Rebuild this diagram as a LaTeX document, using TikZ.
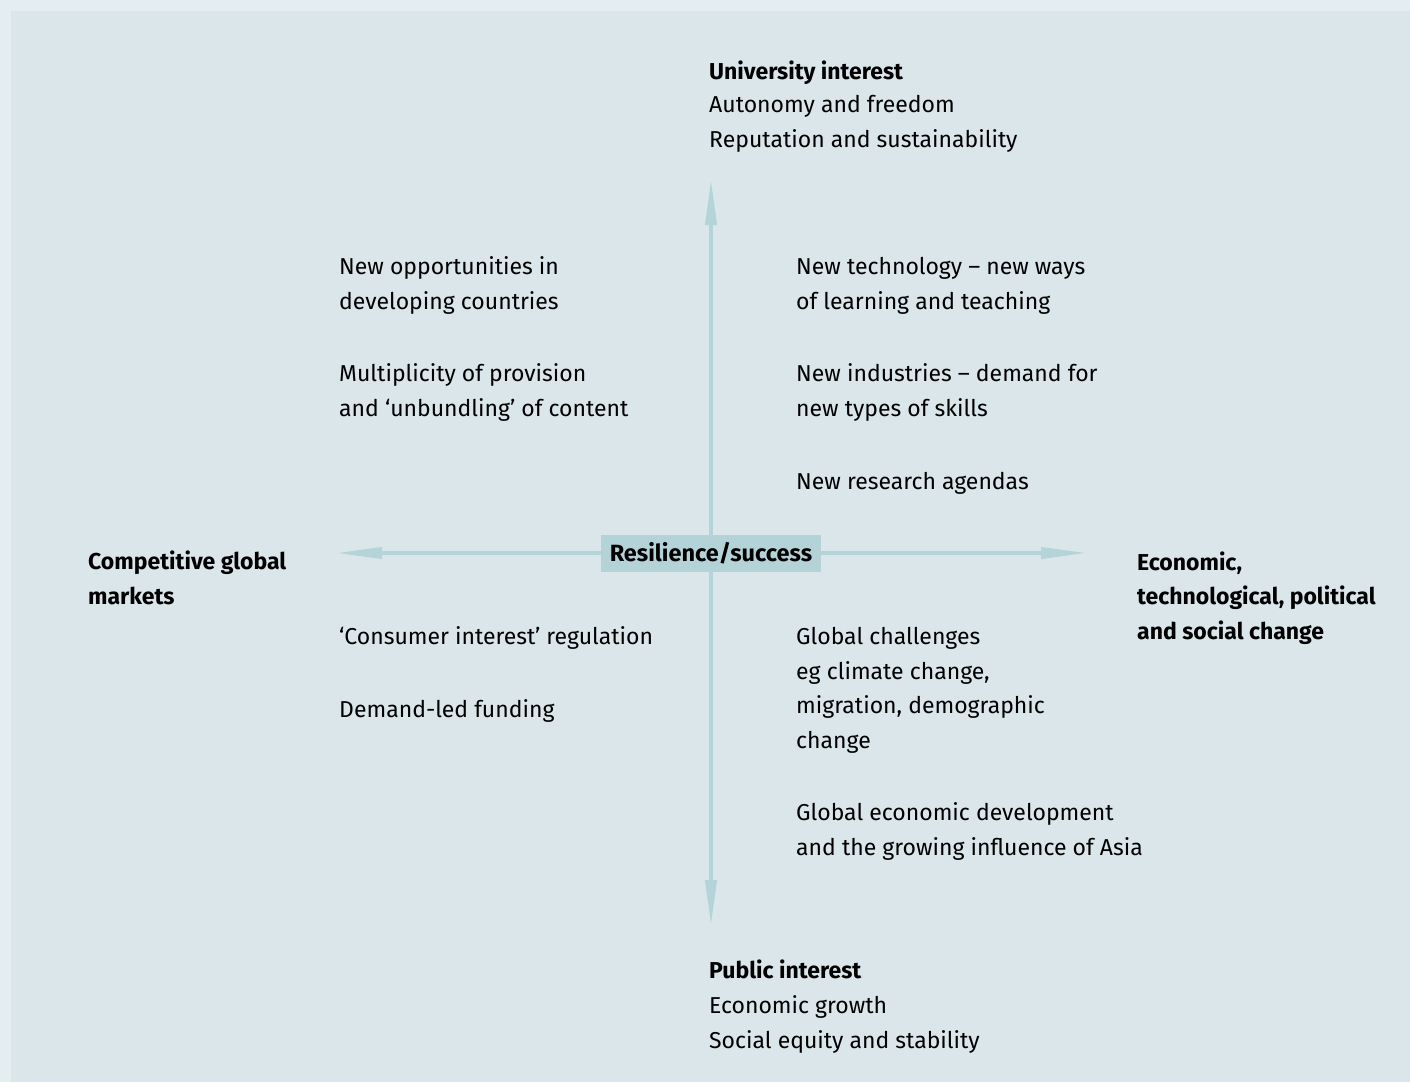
\documentclass[tikz,border=0pt]{standalone}
\usepackage{fontspec}
\setmainfont{Fira Sans}
\usepackage{tikz}
\usetikzlibrary{arrows.meta}

\definecolor{framebg}{HTML}{E4EDEF}
\definecolor{panelbg}{HTML}{DAE6EA}
\definecolor{axiscol}{HTML}{B5D4DA}
\definecolor{hubcol}{HTML}{B3D3D8}

\tikzset{
  % text blocks are placed by the baseline of their last line
  txt/.style = {anchor=base west, inner sep=0pt, align=left,
                font=\fontsize{23}{34.5}\selectfont},
  head/.style = {txt, font=\fontsize{23}{34.5}\selectfont\bfseries},
  axis/.style = {draw=axiscol, line width=4pt,
                 -{Triangle[length=46pt, width=11pt]}},
  hub/.style = {fill=hubcol, inner xsep=9pt, minimum height=37pt,
                font=\fontsize{23.5}{26}\selectfont\bfseries}
}

\begin{document}
\begin{tikzpicture}[x=1pt, y=-1pt]
% frame and panel
\fill[framebg] (0,0) rectangle (1410,1082);
\fill[panelbg] (11,11) rectangle (1410,1082);
\useasboundingbox (0,0) rectangle (1410,1082);

% axes
\coordinate (o) at (711,553);
\coordinate (up) at (711,179);
\coordinate (down) at (711,926);
\coordinate (left) at (336,553);
\coordinate (right) at (1087,553);
\draw[axis] (o) -- (up);
\draw[axis] (o) -- (down);
\draw[axis] (o) -- (left);
\draw[axis] (o) -- (right);
\node[hub] (centre) at (o) {Resilience/success};

% poles
\node[head] (uni) at (709,79) {University interest};
\node[txt] (unisub) at (709,147) {Autonomy and freedom\\Reputation and sustainability};
\node[head] (pub) at (709,978) {Public interest};
\node[txt] (pubsub) at (709,1048) {Economic growth\\Social equity and stability};
\node[head] (mkt) at (88,604) {Competitive global\\markets};
\node[head] (chg) at (1137,639) {Economic,\\technological, political\\and social change};

% upper left
\node[txt] (ul1) at (339,309) {New opportunities in\\developing countries};
\node[txt] (ul2) at (339,416) {Multiplicity of provision\\and `unbundling' of content};

% upper right
\node[txt] (ur1) at (796,309) {New technology -- new ways\\of learning and teaching};
\node[txt] (ur2) at (796,416) {New industries -- demand for\\new types of skills};
\node[txt] (ur3) at (796,489) {New research agendas};

% lower left
\node[txt] (ll1) at (339,644) {`Consumer interest' regulation};
\node[txt] (ll2) at (339,717) {Demand-led funding};

% lower right
\node[txt] (lr1) at (796,748) {Global challenges\\eg climate change,\\migration, demographic\\change};
\node[txt] (lr2) at (796,855) {Global economic development\\and the growing influence of Asia};
\end{tikzpicture}
\end{document}
